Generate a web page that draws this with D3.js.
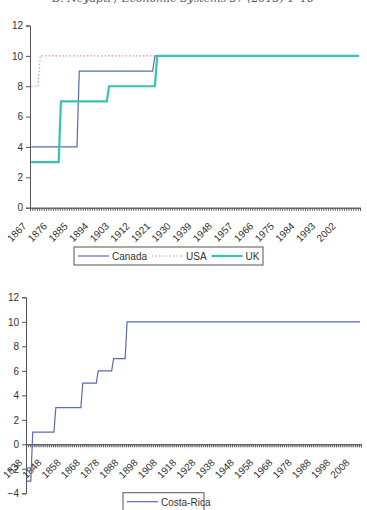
<!DOCTYPE html>
<html>
<head>
<meta charset="utf-8">
<script src="https://cdn.jsdelivr.net/npm/d3@7"></script>
<style>
  body { margin: 0; background: #fff; }
  svg { display: block; font-family: "Liberation Sans", Arial, sans-serif; }
  .tick text { fill: #333; }
</style>
</head>
<body>
<svg id="chart" width="367" height="510"></svg>
<script>
// change points [year, value] - each series holds the value until the next change
const topYears = d3.range(1867, 2011);
const topLabels = d3.range(1867, 2011, 9);
const canadaSteps = [[1867, 4], [1888, 9], [1921, 10]];
const usaSteps = [[1867, 8], [1871, 10]];
const ukSteps = [[1867, 3], [1880, 7], [1901, 8], [1922, 10]];

const crYears = d3.range(1838, 2012);
const crLabels = d3.range(1838, 2012, 10);
const costaRicaSteps = [[1838, -3], [1841, 1], [1853, 3], [1867, 5], [1875, 6], [1883, 7], [1890, 10]];

const svg = d3.select("#chart");

function expand(years, steps) {
    return years.map(y => {
        let v = steps[0][1];
        for (let s of steps) if (s[0] <= y) v = s[1];
        return {year: y, value: v};
    });
}

// header line of the page, mostly cut off
svg.append("text")
    .attr("x", 183).attr("y", 2)
    .attr("text-anchor", "middle")
    .style("font-family", "'DejaVu Serif', serif")
    .style("font-style", "italic")
    .style("font-size", "11px")
    .style("fill", "#555")
    .text("B. Neyapti / Economic Systems 37 (2013) 1–16");

function drawChart(cfg) {
    const g = svg.append("g");
    const x = d3.scaleBand().domain(cfg.years).range([cfg.left, cfg.right]);
    const y = d3.scaleLinear().domain(cfg.yDomain).range([cfg.bottom, cfg.top]);

    // y axis
    g.append("g")
        .attr("transform", `translate(${cfg.left},0)`)
        .call(d3.axisLeft(y).tickValues(d3.range(cfg.yDomain[0], cfg.yDomain[1] + 1, 2)).tickSize(4).tickPadding(3))
        .call(a => a.select(".domain").attr("stroke", "#555"))
        .call(a => a.selectAll(".tick line").attr("stroke", "#555"))
        .call(a => a.selectAll("text").style("font-size", "10px").style("font-family", "'Liberation Sans', Arial, sans-serif"));

    // x axis: dense ticks on every category boundary
    const bound = d3.scaleLinear().domain([0, cfg.years.length]).range([cfg.left, cfg.right]);
    g.append("g")
        .attr("transform", `translate(0,${y(0)})`)
        .call(d3.axisBottom(bound).tickValues(d3.range(0, cfg.years.length + 1)).tickSize(3).tickFormat(""))
        .call(a => a.select(".domain").attr("stroke", "#333"))
        .call(a => a.selectAll(".tick line").attr("stroke", "#555"));

    g.selectAll(".xlab")
        .data(cfg.labels)
        .join("text")
        .attr("class", "xlab")
        .attr("transform", d => `translate(${x(d) + x.bandwidth() / 2 - 4},${y(0) + 19}) rotate(-45)`)
        .attr("text-anchor", "end")
        .style("font-size", "10px")
        .style("fill", "#333")
        .text(d => d);

    const line = d3.line()
        .x(d => x(d.year) + x.bandwidth() / 2)
        .y(d => y(d.value));

    for (let s of cfg.series) {
        g.append("path")
            .datum(expand(cfg.years, s.steps))
            .attr("fill", "none")
            .attr("stroke", s.color)
            .attr("stroke-width", s.width)
            .attr("stroke-dasharray", s.dash || null)
            .attr("d", line);
    }

    // legend
    const lg = g.append("g");
    lg.append("rect")
        .attr("x", cfg.legend.x).attr("y", cfg.legend.y)
        .attr("width", cfg.legend.w).attr("height", 18)
        .attr("fill", "#fff").attr("stroke", "#555");
    let cx = cfg.legend.x + 4;
    for (let s of cfg.series) {
        lg.append("line")
            .attr("x1", cx).attr("x2", cx + 31)
            .attr("y1", cfg.legend.y + 9).attr("y2", cfg.legend.y + 9)
            .attr("stroke", s.color)
            .attr("stroke-width", s.width)
            .attr("stroke-dasharray", s.dash || null);
        const t = lg.append("text")
            .attr("x", cx + 34).attr("y", cfg.legend.y + 13)
            .style("font-size", "10px")
            .style("fill", "#333")
            .text(s.name);
        cx += 34 + t.node().getComputedTextLength() + 5;
    }
}

drawChart({
    years: topYears, labels: topLabels,
    left: 30, right: 360, top: 25.5, bottom: 207.7, yDomain: [0, 12],
    series: [
        {name: "Canada", steps: canadaSteps, color: "#5a6bb0", width: 1.2},
        {name: "USA", steps: usaSteps, color: "#e98fb0", width: 1.2, dash: "1.5,2"},
        {name: "UK", steps: ukSteps, color: "#33c4b2", width: 2.2}
    ],
    legend: {x: 74, y: 247, w: 189}
});

drawChart({
    years: crYears, labels: crLabels,
    left: 26, right: 361, top: 297.3, bottom: 493.3, yDomain: [-4, 12],
    series: [
        {name: "Costa-Rica", steps: costaRicaSteps, color: "#5a6bb0", width: 1.2}
    ],
    legend: {x: 123, y: 492.7, w: 81}
});
</script>
</body>
</html>
